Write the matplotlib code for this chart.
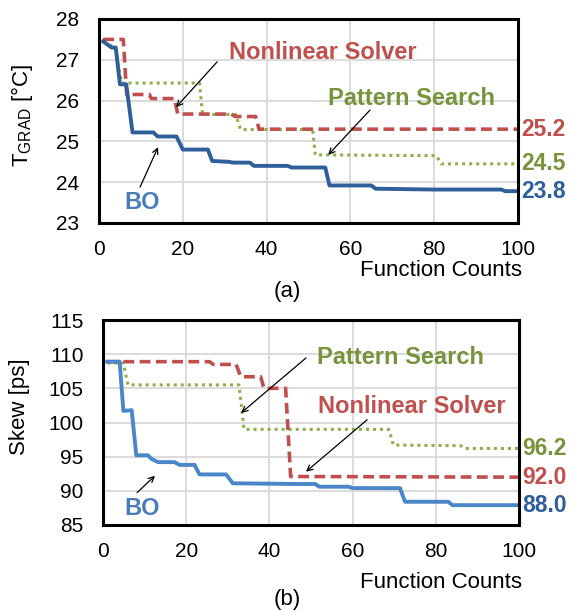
import matplotlib
matplotlib.use("Agg")
import matplotlib.pyplot as plt

plt.rcParams['font.family'] = ['Liberation Sans', 'DejaVu Sans']
plt.rcParams['mathtext.fontset'] = 'custom'
plt.rcParams['mathtext.rm'] = 'Liberation Sans'
plt.rcParams['mathtext.it'] = 'Liberation Sans:italic'
plt.rcParams['mathtext.bf'] = 'Liberation Sans:bold'

# ---------------- data (a) ----------------
bo_a_x = [1, 3, 4, 5, 6.5, 8, 13, 14, 18.5, 20, 26, 27, 31, 32, 36, 37, 45, 46, 54, 55, 65, 66, 80, 96, 97, 100]
bo_a_y = [27.45, 27.3, 27.3, 26.4, 26.4, 25.22, 25.22, 25.12, 25.12, 24.8, 24.8, 24.52, 24.5, 24.48, 24.48, 24.4,
          24.4, 24.36, 24.36, 23.92, 23.92, 23.84, 23.82, 23.82, 23.78, 23.78]
nl_a_x = [1, 5.8, 6.6, 12, 12.5, 18, 18.8, 31.5, 32.5, 37.4, 38.2, 100]
nl_a_y = [27.5, 27.5, 26.15, 26.15, 26.05, 26.05, 25.67, 25.67, 25.61, 25.61, 25.3, 25.3]
ps_a_x = [1, 3.8, 5.4, 24, 24.7, 32.6, 33.8, 51, 51.6, 80.5, 81.7, 100]
ps_a_y = [27.45, 27.3, 26.43, 26.43, 25.66, 25.66, 25.29, 25.29, 24.67, 24.65, 24.45, 24.45]

# ---------------- data (b) ----------------
bo_b_x = [1, 4, 4.9, 6.9, 8, 10.8, 11.6, 13.2, 17.2, 18.4, 22, 23.2, 29.6, 31.2, 47, 51, 52, 59, 60, 71.4, 72.6, 83, 84, 100]
bo_b_y = [108.9, 108.9, 101.7, 101.8, 95.2, 95.2, 94.7, 94.2, 94.2, 93.8, 93.8, 92.4, 92.4, 91.1, 91.0, 91.0, 90.6,
          90.6, 90.4, 90.4, 88.4, 88.4, 87.9, 87.9]
nl_b_x = [1, 25.6, 26.5, 32, 33.1, 37.9, 38.7, 43.9, 45.1, 100]
nl_b_y = [108.9, 108.9, 108.5, 108.5, 106.7, 106.7, 105.0, 105.0, 92.1, 92.0]
ps_b_x = [1, 4.9, 6, 32.7, 33.9, 68.7, 69.8, 86, 87, 100]
ps_b_y = [108.7, 108.7, 105.5, 105.5, 99.0, 99.0, 96.7, 96.6, 96.2, 96.2]

x_ticks = [0, 20, 40, 60, 80, 100]
y_ticks_a = [23, 24, 25, 26, 27, 28]
y_ticks_b = [85, 90, 95, 100, 105, 110, 115]
end_labels_a = ["25.2", "24.5", "23.8"]
end_labels_b = ["96.2", "92.0", "88.0"]

RED = '#c0504d'
GREEN = '#77933c'
BLUE_DARK = '#2f5f9a'
BLUE = '#4a86c8'
BLUE_TXT = '#4a7ebb'

W, H = 571, 610
fig = plt.figure(figsize=(W / 100, H / 100), dpi=100)


def px_axes(l, t, r, b):
    return fig.add_axes([l / W, 1 - b / H, (r - l) / W, (b - t) / H])


def style(ax, yt, ylim):
    ax.set_xlim(0, 100)
    ax.set_ylim(*ylim)
    ax.set_xticks(x_ticks)
    ax.set_yticks(yt)
    ax.grid(True, color='#d9d9d9', linewidth=1.3)
    ax.set_axisbelow(True)
    for s in ax.spines.values():
        s.set_linewidth(2.2)
        s.set_color('black')
    ax.tick_params(axis='both', length=0, labelsize=15)
    ax.tick_params(axis='y', pad=14)
    ax.tick_params(axis='x', pad=12)


arrow = dict(arrowstyle='->', color='black', lw=0.9, shrinkA=0, shrinkB=0)
ANN = 17
END = 16.5

# ---------------- (a) ----------------
ax1 = px_axes(99, 19, 518, 223)
style(ax1, y_ticks_a, (23, 28))
ax1.plot(ps_a_x, ps_a_y, color='#8faf4a', lw=2.2, linestyle=(0, (1, 1.3)))
ax1.plot(nl_a_x, nl_a_y, color=RED, lw=2.6, linestyle=(0, (3, 1.5)))
ax1.plot(bo_a_x, bo_a_y, color=BLUE_DARK, lw=2.8)
for lab, yv, c in zip(end_labels_a, [nl_a_y[-1], ps_a_y[-1], bo_a_y[-1]], [RED, GREEN, BLUE_DARK]):
    ax1.annotate(lab, xy=(1, yv), xycoords=('axes fraction', 'data'), xytext=(2.5, 0),
                 textcoords='offset points', ha='left', va='center', fontsize=END,
                 fontweight='bold', color=c, annotation_clip=False)
ax1.annotate('', xy=(18.4, 25.84), xytext=(28.2, 26.95), arrowprops=arrow)
ax1.annotate('', xy=(54.7, 24.67), xytext=(64.7, 25.77), arrowprops=arrow)
ax1.annotate('', xy=(14.1, 24.86), xytext=(9.8, 23.88), arrowprops=arrow)
ax1.text(53.5, 27.19, 'Nonlinear Solver', color=RED, fontsize=ANN, fontweight='bold', ha='center', va='center')
ax1.text(74.5, 26.06, 'Pattern Search', color=GREEN, fontsize=ANN, fontweight='bold', ha='center', va='center')
ax1.text(10.4, 23.51, 'BO', color=BLUE_TXT, fontsize=ANN, fontweight='bold', ha='center', va='center')

fig.text(22 / W, 1 - 115 / H, r'T$_{\mathrm{GRAD}}$ [°C]', rotation=90, ha='center', va='center', fontsize=16)
fig.text(522 / W, 1 - 270 / H, 'Function Counts', ha='right', va='center', fontsize=16)
fig.text(287 / W, 1 - 292 / H, '(a)', ha='center', va='center', fontsize=16)

# ---------------- (b) ----------------
ax2 = px_axes(103, 320, 519, 525)
style(ax2, y_ticks_b, (85, 115))
ax2.plot(ps_b_x, ps_b_y, color='#8faf4a', lw=2.2, linestyle=(0, (1, 1.3)))
ax2.plot(nl_b_x, nl_b_y, color=RED, lw=2.6, linestyle=(0, (3, 1.5)))
ax2.plot(bo_b_x, bo_b_y, color=BLUE, lw=2.8)
for lab, yv, c in zip(end_labels_b, [ps_b_y[-1], nl_b_y[-1], bo_b_y[-1]], [GREEN, RED, BLUE_DARK]):
    ax2.annotate(lab, xy=(1, yv), xycoords=('axes fraction', 'data'), xytext=(2.5, 0),
                 textcoords='offset points', ha='left', va='center', fontsize=END,
                 fontweight='bold', color=c, annotation_clip=False)
ax2.annotate('', xy=(33.2, 101.4), xytext=(48.8, 109.45), arrowprops=arrow)
ax2.annotate('', xy=(48.8, 92.8), xytext=(63.5, 100.4), arrowprops=arrow)
ax2.annotate('', xy=(12.5, 92.2), xytext=(8.2, 89.75), arrowprops=arrow)
ax2.text(71.6, 109.45, 'Pattern Search', color=GREEN, fontsize=ANN, fontweight='bold', ha='center', va='center')
ax2.text(74.3, 102.3, 'Nonlinear Solver', color=RED, fontsize=ANN, fontweight='bold', ha='center', va='center')
ax2.text(9.5, 87.4, 'BO', color=BLUE_TXT, fontsize=ANN, fontweight='bold', ha='center', va='center')

fig.text(20 / W, 1 - 407 / H, 'Skew [ps]', rotation=90, ha='center', va='center', fontsize=16)
fig.text(522 / W, 1 - 582 / H, 'Function Counts', ha='right', va='center', fontsize=16)
fig.text(287 / W, 1 - 599 / H, '(b)', ha='center', va='center', fontsize=16)

fig.savefig('out.png', dpi=100)
